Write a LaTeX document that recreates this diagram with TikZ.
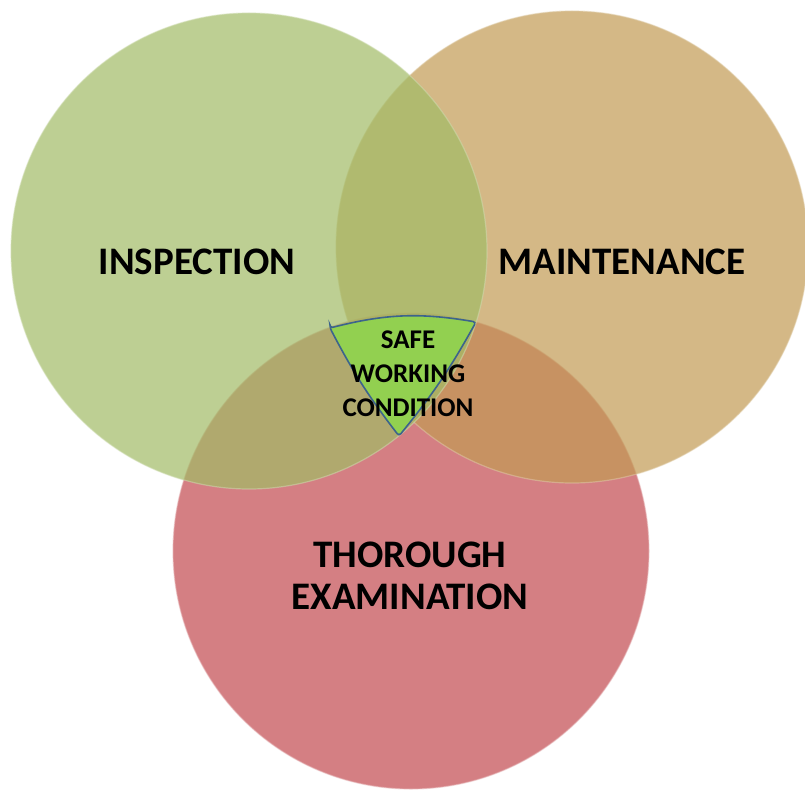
\documentclass[tikz,border=0pt]{standalone}
\usepackage{fontspec}
\setmainfont{Carlito}
\usepackage{tikz}
\usetikzlibrary{positioning,shapes,calc}

\definecolor{inspgreen}{RGB}{162,188,102}
\definecolor{mainttan}{RGB}{194,155,84}
\definecolor{examred}{RGB}{194,74,79}
\definecolor{safegreen}{RGB}{146,208,80}
\definecolor{safeblue}{RGB}{60,100,140}

\begin{document}
\begin{tikzpicture}[x=1pt,y=-1pt,
    ring/.style={circle,minimum size=476pt,inner sep=0pt,fill opacity=0.7,draw opacity=0.5,line width=1.2pt},
    biglabel/.style={font=\bfseries\fontsize{39}{42}\selectfont,align=center,text=black},
    safelabel/.style={font=\bfseries\fontsize{27}{34}\selectfont,align=center,text=black}]
\useasboundingbox[fill=white] (0,0) rectangle (805,789);
\node[ring,fill=examred,draw=examred!40!white] (exam) at (411,551) {};
\node[ring,fill=mainttan,draw=mainttan!50!white,minimum size=472pt] (maint) at (572,247) {};
\node[ring,fill=inspgreen,draw=inspgreen!50!white] (insp) at (249,251) {};
\coordinate (sl) at (330,328);
\coordinate (sr) at (476,322);
\coordinate (sb) at (399,436);
\draw[fill=safegreen,draw=safeblue,line width=1.6pt,rounded corners=3pt]
    (sl) to[bend left=12] (sr) to[bend left=5] (sb) to[bend left=5] cycle;
\node[biglabel] (insptext) at (197,262) {INSPECTION};
\node[biglabel] (mainttext) at (622,262) {MAINTENANCE};
\node[biglabel] (examtext) at (410,576) {THOROUGH\\EXAMINATION};
\node[safelabel] (safetext) at (408,374) {SAFE\\WORKING\\CONDITION};
\end{tikzpicture}
\end{document}
